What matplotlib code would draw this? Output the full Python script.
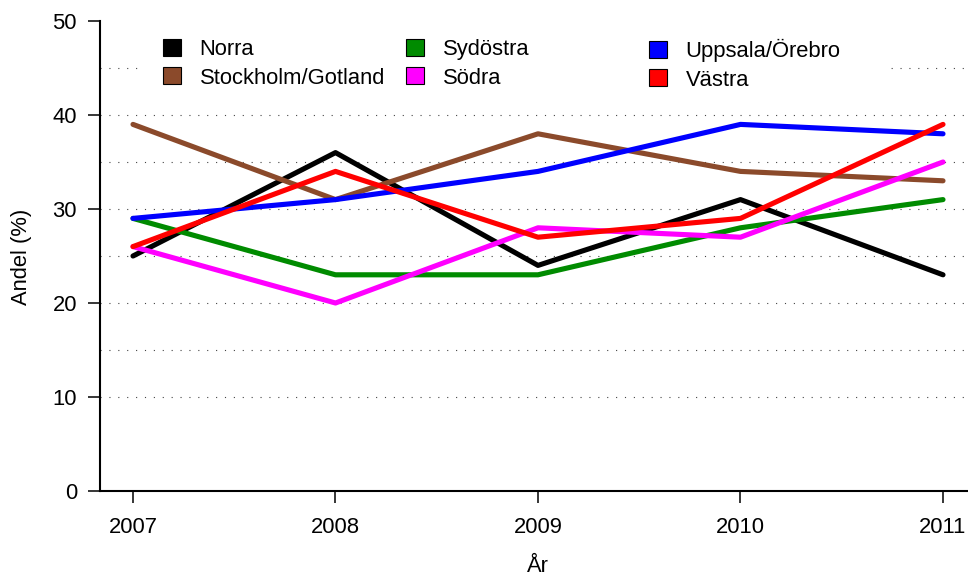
import matplotlib.pyplot as plt
from matplotlib.patches import Patch, Rectangle
from matplotlib.legend import Legend

plt.rcParams['font.family'] = ['Liberation Sans', 'DejaVu Sans']

# data
years = [2007, 2008, 2009, 2010, 2011]
regions = ['Norra', 'Stockholm/Gotland', 'Sydöstra', 'Södra', 'Uppsala/Örebro', 'Västra']
norra = [25, 36, 24, 31, 23]
stockholm = [39, 31, 38, 34, 33]
sydostra = [29, 23, 23, 28, 31]
sodra = [26, 20, 28, 27, 35]
uppsala = [29, 31, 34, 39, 38]
vastra = [26, 34, 27, 29, 39]
series = [norra, stockholm, sydostra, sodra, uppsala, vastra]
colors = ['#000000', '#8B4A2B', '#008B00', '#FF00FF', '#0000FF', '#FF0000']
yticks = [0, 10, 20, 30, 40, 50]
gridvals = [10, 15, 20, 25, 30, 35, 40, 45]

W, H = 968, 577
FS = 15.8
fig = plt.figure(figsize=(W / 100, H / 100), dpi=100)
# plot region in pixels: x 100..968, y 21..491
ax = fig.add_axes([100 / W, (H - 491) / H, 868 / W, 470 / H])
step = 202.5
ax.set_xlim(2007 - 33 / step, 2011 + 25 / step)
ax.set_ylim(0, 50)

for g in gridvals:
    ax.axhline(g, color='#444444', lw=0.8, linestyle=(0, (1, 7)), zorder=1)

# white box behind the legend (hides the grid there)
ax.add_patch(Rectangle((40 / 868, 1 - 72 / 470), 744 / 868, 60 / 470,
                       transform=ax.transAxes, facecolor='white',
                       edgecolor='none', zorder=1.5))

for vals, c in zip(series, colors):
    ax.plot(years, vals, color=c, lw=3.7, solid_capstyle='round',
            solid_joinstyle='round', zorder=2, clip_on=False)

for s in ['top', 'right']:
    ax.spines[s].set_visible(False)
ax.spines['left'].set_linewidth(1.5)
ax.spines['bottom'].set_linewidth(1.5)
ax.set_xticks(years)
ax.set_xticklabels([str(y) for y in years])
ax.set_yticks(yticks)
ax.tick_params(axis='both', labelsize=FS, length=8.6, width=1.1, direction='out')
ax.tick_params(axis='y', pad=8)
ax.tick_params(axis='x', pad=10)

fig.text(22 / W, 1 - 257 / H, 'Andel (%)', rotation=90, ha='center',
         va='center', fontsize=FS)
fig.text(538 / W, 1 - 567 / H, 'År', ha='center', va='center', fontsize=FS)

# legend: three columns of two entries
col_x = [163, 406, 649]
for k in range(3):
    handles = [Patch(facecolor=colors[i], edgecolor='black', lw=0.8)
               for i in (2 * k, 2 * k + 1)]
    labels = [regions[i] for i in (2 * k, 2 * k + 1)]
    leg = Legend(ax, handles, labels, loc='upper left',
                 bbox_to_anchor=(col_x[k] / W, 1 - 39 / H),
                 bbox_transform=fig.transFigure, frameon=False,
                 fontsize=FS, borderpad=0, borderaxespad=0,
                 handlelength=0.82, handleheight=0.82,
                 handletextpad=0.85, labelspacing=0.33)
    leg.set_zorder(5)
    ax.add_artist(leg)

fig.savefig('out.png', dpi=100)
